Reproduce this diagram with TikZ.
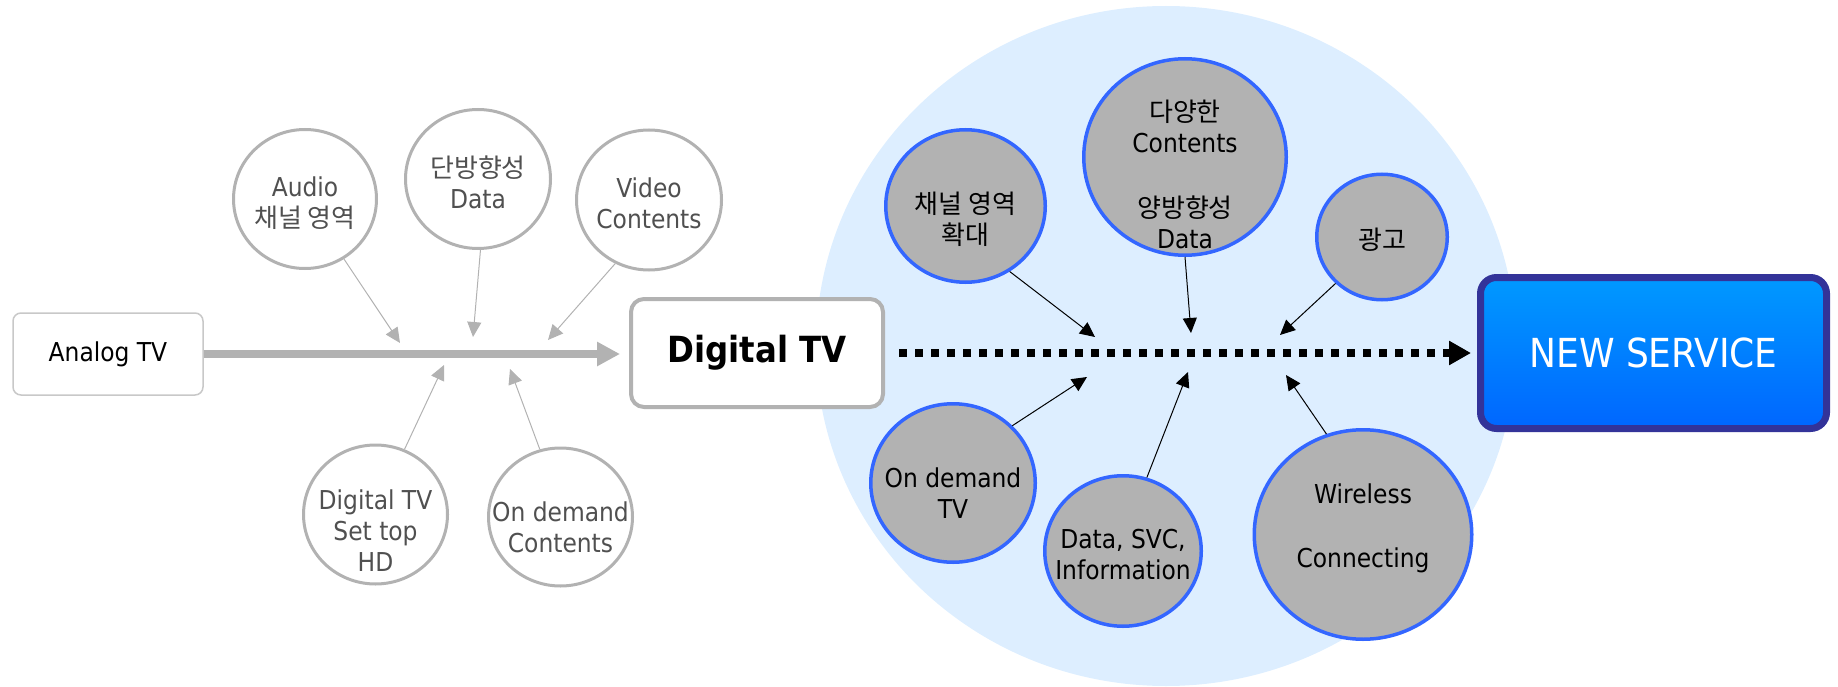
\documentclass[tikz,border=0pt]{standalone}
\usepackage{fontspec}
\setmainfont{DejaVu Sans Condensed}
\newfontfamily\kr{Noto Sans CJK KR}
\usetikzlibrary{arrows.meta,shapes.geometric}
\definecolor{bgblue}{HTML}{DDEEFF}
\definecolor{lgray}{HTML}{B2B2B2}
\definecolor{boxgray}{HTML}{C8C8C8}
\definecolor{dgray}{HTML}{505050}
\definecolor{rblue}{HTML}{3366FF}
\definecolor{rgray}{HTML}{B2B2B2}
\definecolor{nsborder}{HTML}{333399}
\definecolor{nstop}{HTML}{0099FF}
\definecolor{nsbot}{HTML}{0066FF}
\begin{document}
\begin{tikzpicture}[x=1pt,y=-1pt,
  lc/.style={ellipse, draw=lgray, line width=3pt, fill=white, inner sep=0pt},
  rc/.style={ellipse, draw=rblue, line width=3.5pt, fill=rgray, inner sep=0pt},
  ltext/.style={font=\fontsize{26}{31}\selectfont, text=dgray, align=center, inner sep=0pt},
  rtext/.style={font=\fontsize{26}{31}\selectfont, text=black, align=center, inner sep=0pt},
  larrow/.style={draw=lgray, line width=1pt, -{Triangle[length=15pt,width=14pt]}},
  rarrow/.style={draw=black, line width=1pt, -{Triangle[length=15pt,width=14pt]}},
]
\useasboundingbox (0,0) rectangle (1838,687);
% background ellipse
\fill[bgblue] (1166,346) ellipse [x radius=350pt, y radius=340pt];

% boxes
\node[draw=boxgray, line width=1.5pt, rounded corners=8pt, fill=white,
      minimum width=190pt, minimum height=82pt, inner sep=0pt,
      font=\fontsize{26}{31}\selectfont] (analog) at (108,354) {Analog TV};
\node[draw=lgray, line width=4pt, rounded corners=13pt, fill=white,
      minimum width=252pt, minimum height=108pt, inner sep=0pt,
      font=\fontsize{36}{40}\selectfont\bfseries] (dtv) at (757,353) {Digital TV};
\node[draw=nsborder, line width=7pt, rounded corners=16pt,
      top color=nstop, bottom color=nsbot,
      minimum width=346pt, minimum height=151pt, inner sep=0pt,
      text=white, font=\fontsize{40}{44}\selectfont] (ns) at (1653.5,353) {NEW SERVICE};

% left circles
\node[lc, minimum width=143pt, minimum height=139pt] (audio) at (305,199) {};
\node[lc, minimum width=145pt, minimum height=139pt] (uni) at (478,179) {};
\node[lc, minimum width=145pt, minimum height=140pt] (video) at (649,200) {};
\node[lc, minimum width=144pt, minimum height=139pt] (settop) at (375.5,514.5) {};
\node[lc, minimum width=144pt, minimum height=138pt] (odc) at (560.5,517) {};
\node[ltext] (audiot) at (305,203) {Audio\\{\kr 채널 영역}};
\node[ltext] (unit) at (478,182) {{\kr 단방향성}\\Data};
\node[ltext] (videot) at (649,203) {Video\\Contents};
\node[ltext] (settopt) at (375.5,531) {Digital TV\\Set top\\HD};
\node[ltext] (odct) at (560.5,527) {On demand\\Contents};

% right circles
\node[rc, minimum width=159.5pt, minimum height=152.5pt] (chan) at (965.5,206) {};
\node[rc, minimum width=202.5pt, minimum height=196.5pt] (many) at (1185,157) {};
\node[rc, minimum width=130.5pt, minimum height=125.5pt] (ad) at (1382,237) {};
\node[rc, minimum width=164.5pt, minimum height=158.5pt] (odtv) at (953,483) {};
\node[rc, minimum width=156.5pt, minimum height=150.5pt] (svc) at (1123,551) {};
\node[rc, minimum width=217.5pt, minimum height=209.5pt] (wl) at (1363,534.5) {};
\node[rtext, font=\kr\fontsize{26}{31}\selectfont] (chant) at (965.5,219) {채널 영역\\확대};
\node[rtext] (manyt) at (1185,174) {{\kr 다양한}\\Contents\\[34pt]{\kr 양방향성}\\Data};
\node[rtext, font=\kr\fontsize{26}{31}\selectfont] (adt) at (1382,240) {광고};
\node[rtext] (odtvt) at (953,493) {On demand\\TV};
\node[rtext] (svct) at (1123,555) {Data, SVC,\\Information};
\node[rtext] (wlt) at (1363,528) {Wireless\\[33pt]Connecting};

% main connectors
\draw[lgray, line width=8pt, -{Triangle[length=23pt,width=23pt]}, shorten >=9pt]
  (analog.east) -- (analog.east -| dtv.west);
\draw[black, line width=8pt, dash pattern=on 8pt off 8pt,
      -{Triangle[length=22pt,width=23pt]}, shorten <=14pt, shorten >=6pt]
  (dtv.east) -- (dtv.east -| ns.west);

% target coordinates
\coordinate (ta) at (400,343);
\coordinate (tu) at (473,337);
\coordinate (tv) at (548,340);
\coordinate (ts) at (444,365);
\coordinate (to) at (510,369);
\coordinate (rch) at (1095,337);
\coordinate (rma) at (1191,333);
\coordinate (rad) at (1280,335);
\coordinate (rod) at (1087,377);
\coordinate (rsv) at (1188,372);
\coordinate (rwl) at (1286,375);

% left arrows
\draw[larrow] (audio.-57.6) -- (ta);
\draw[larrow] (uni.-88.4) -- (tu);
\draw[larrow] (video.-118.7) -- (tv);
\draw[larrow] (settop.66.6) -- (ts);
\draw[larrow] (odc.107.9) -- (to);

% right arrows
\draw[rarrow] (chan.-56.7) -- (rch);
\draw[rarrow] (many.-90) -- (rma);
\draw[rarrow] (ad.-135) -- (rad);
\draw[rarrow] (odtv.44) -- (rod);
\draw[rarrow] (svc.72) -- (rsv);
\draw[rarrow] (wl.110.8) -- (rwl);
\end{tikzpicture}
\end{document}
